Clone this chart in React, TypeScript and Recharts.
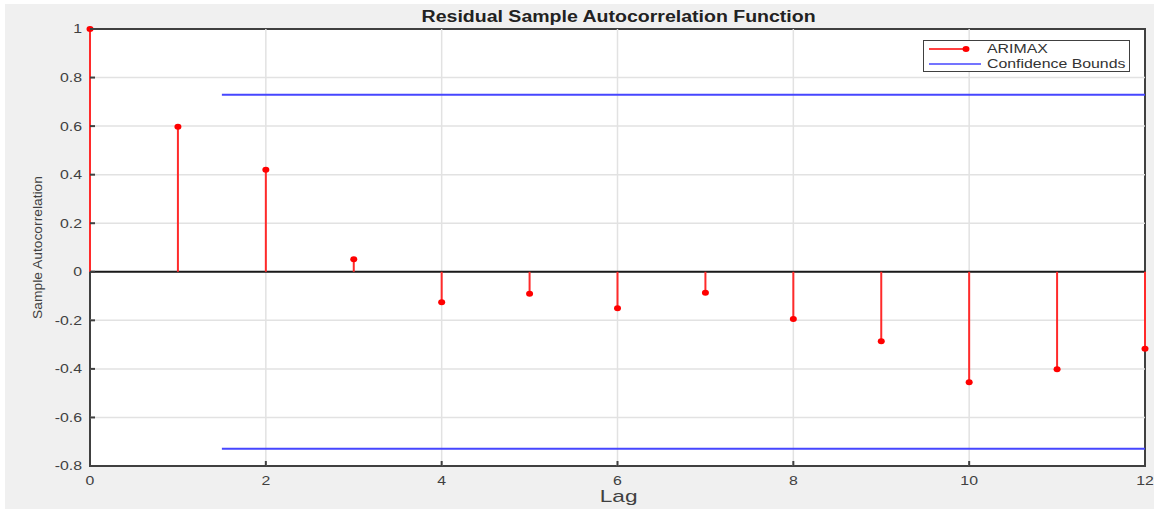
import React from "react";
import {
  ComposedChart,
  Scatter,
  ErrorBar,
  XAxis,
  YAxis,
  CartesianGrid,
  ReferenceLine,
} from "recharts";

const lags = [0, 1, 2, 3, 4, 5, 6, 7, 8, 9, 10, 11, 12];
const acfValues = [
  1, 0.597, 0.42, 0.052, -0.125, -0.09, -0.15, -0.086, -0.194, -0.286, -0.455,
  -0.402, -0.317,
];
const boundValue = 0.729;
const boundLags = [1.5, 12];
const xTicks = [0, 2, 4, 6, 8, 10, 12];
const yTicks = [-0.8, -0.6, -0.4, -0.2, 0, 0.2, 0.4, 0.6, 0.8, 1];

// stem = error bar running from the value back to zero
const acfData = lags.map((lag, i) => {
  const v = acfValues[i];
  return { lag, acf: v, stem: v >= 0 ? [v, 0] : [0, -v] };
});

const FONT = "'Liberation Sans', Arial, sans-serif";
const AXIS = "#404040";
const RED = "#ff0000";
const BLUE = "#4646ff";
const SX = 1.22; // the reference text is stretched sideways

const BottomTick = (props: any) => {
  const { x, y, payload } = props;
  return (
    <g>
      <line x1={x} x2={x} y1={y} y2={y - 5} stroke={AXIS} strokeWidth={2} />
      <text
        transform={`translate(${x},${y + 15}) scale(${SX},1)`}
        textAnchor="middle"
        dominantBaseline="central"
        fontSize={13}
        fontFamily={FONT}
        fill={AXIS}
      >
        {payload.value}
      </text>
    </g>
  );
};

const TopTick = (props: any) => {
  const { x, y } = props;
  return <line x1={x} x2={x} y1={y} y2={y + 5} stroke={AXIS} strokeWidth={2} />;
};

const LeftTick = (props: any) => {
  const { x, y, payload } = props;
  return (
    <g>
      <line x1={x} x2={x + 5} y1={y} y2={y} stroke={AXIS} strokeWidth={2} />
      <text
        transform={`translate(${x - 8},${y}) scale(${SX},1)`}
        textAnchor="end"
        dominantBaseline="central"
        fontSize={13}
        fontFamily={FONT}
        fill={AXIS}
      >
        {payload.value}
      </text>
    </g>
  );
};

const RightTick = (props: any) => {
  const { x, y } = props;
  return <line x1={x} x2={x - 5} y1={y} y2={y} stroke={AXIS} strokeWidth={2} />;
};

export default function App() {
  return (
    <div
      style={{
        position: "absolute",
        left: 0,
        top: 0,
        width: 1154,
        height: 510,
        background: "#ffffff",
        fontFamily: FONT,
      }}
    >
      <div
        style={{
          position: "absolute",
          left: 5,
          top: 4,
          width: 1149,
          height: 505,
          background: "#f0f0f0",
        }}
      />
      {/* plot box, sits under the svg so stems draw over the frame */}
      <div
        style={{
          position: "absolute",
          left: 89,
          top: 28,
          width: 1057,
          height: 439,
          boxSizing: "border-box",
          border: `2px solid ${AXIS}`,
          background: "#ffffff",
        }}
      />
      <div
        style={{
          position: "absolute",
          left: 0,
          top: 8,
          width: 1237,
          textAlign: "center",
          fontSize: 16,
          lineHeight: "18px",
          fontWeight: "bold",
          color: "#222",
          transform: `scaleX(${SX})`,
          transformOrigin: "618px 0",
        }}
      >
        Residual Sample Autocorrelation Function
      </div>
      <div
        style={{
          position: "absolute",
          left: 0,
          top: 487,
          width: 1237,
          textAlign: "center",
          fontSize: 17,
          lineHeight: "19px",
          color: AXIS,
          transform: "scaleX(1.33)",
          transformOrigin: "618px 0",
        }}
      >
        Lag
      </div>
      <div style={{ position: "absolute", left: 0, top: 0 }}>
        <ComposedChart
          width={1154}
          height={510}
          data={acfData}
          margin={{ top: 29, right: 9, bottom: 14, left: 0 }}
        >
          <CartesianGrid
            stroke="#e2e2e2"
            strokeWidth={1.5}
            horizontalValues={yTicks.slice(1, -1)}
            verticalValues={xTicks.slice(1, -1)}
          />
          <XAxis
            dataKey="lag"
            type="number"
            domain={[0, 12]}
            ticks={xTicks}
            height={30}
            tickSize={0}
            tickMargin={0}
            tickLine={false}
            axisLine={false}
            tick={<BottomTick />}
            interval={0}
          />
          <XAxis
            xAxisId="top"
            orientation="top"
            type="number"
            domain={[0, 12]}
            ticks={xTicks}
            height={0}
            tickSize={0}
            tickMargin={0}
            tickLine={false}
            axisLine={false}
            tick={<TopTick />}
            interval={0}
          />
          <YAxis
            type="number"
            domain={[-0.8, 1]}
            ticks={yTicks}
            width={90}
            tickSize={0}
            tickMargin={0}
            tickLine={false}
            axisLine={false}
            tick={<LeftTick />}
            interval={0}
            label={(p: any) => {
              const vb = p.viewBox || {};
              const cy = (vb.y || 29) + (vb.height || 437) / 2;
              return (
                <text
                  x={37}
                  y={cy}
                  transform={`rotate(-90 37 ${cy})`}
                  textAnchor="middle"
                  dominantBaseline="central"
                  fontSize={13}
                  fontFamily={FONT}
                  fill={AXIS}
                  textLength={143}
                  lengthAdjust="spacingAndGlyphs"
                >
                  Sample Autocorrelation
                </text>
              );
            }}
          />
          <YAxis
            yAxisId="right"
            orientation="right"
            type="number"
            domain={[-0.8, 1]}
            ticks={yTicks}
            width={0}
            tickSize={0}
            tickMargin={0}
            tickLine={false}
            axisLine={false}
            tick={<RightTick />}
            interval={0}
          />
          <ReferenceLine
            segment={[
              { x: boundLags[0], y: boundValue },
              { x: boundLags[1], y: boundValue },
            ]}
            stroke={BLUE}
            strokeWidth={2}
          />
          <ReferenceLine
            segment={[
              { x: boundLags[0], y: -boundValue },
              { x: boundLags[1], y: -boundValue },
            ]}
            stroke={BLUE}
            strokeWidth={2}
          />
          <ReferenceLine y={0} stroke="#1a1a1a" strokeWidth={2} />
          <Scatter
            dataKey="acf"
            fill={RED}
            isAnimationActive={false}
            shape={(p: any) => (
              <ellipse cx={p.cx} cy={p.cy} rx={3.5} ry={3} fill={RED} />
            )}
          >
            <ErrorBar
              dataKey="stem"
              direction="y"
              width={0}
              stroke="#ff2a2a"
              strokeWidth={2}
              isAnimationActive={false}
            />
          </Scatter>
        </ComposedChart>
      </div>
      <div
        style={{
          position: "absolute",
          left: 923,
          top: 40,
          width: 205,
          height: 30,
          border: "1.5px solid #404040",
          background: "#ffffff",
          fontSize: 13,
          color: "#333",
        }}
      >
        <svg
          width={60}
          height={30}
          style={{ position: "absolute", left: 0, top: 0 }}
        >
          <line x1={5} x2={42} y1={8} y2={8} stroke={RED} strokeWidth={1.5} />
          <ellipse cx={42} cy={8} rx={3.5} ry={3} fill={RED} />
          <line x1={5} x2={57} y1={23} y2={23} stroke={BLUE} strokeWidth={1.5} />
        </svg>
        <div
          style={{
            position: "absolute",
            left: 63,
            top: 0,
            lineHeight: "16px",
            transform: `scaleX(${SX})`,
            transformOrigin: "0 0",
          }}
        >
          ARIMAX
        </div>
        <div
          style={{
            position: "absolute",
            left: 63,
            top: 15,
            lineHeight: "16px",
            transform: `scaleX(${SX})`,
            transformOrigin: "0 0",
            whiteSpace: "nowrap",
          }}
        >
          Confidence Bounds
        </div>
      </div>
    </div>
  );
}
